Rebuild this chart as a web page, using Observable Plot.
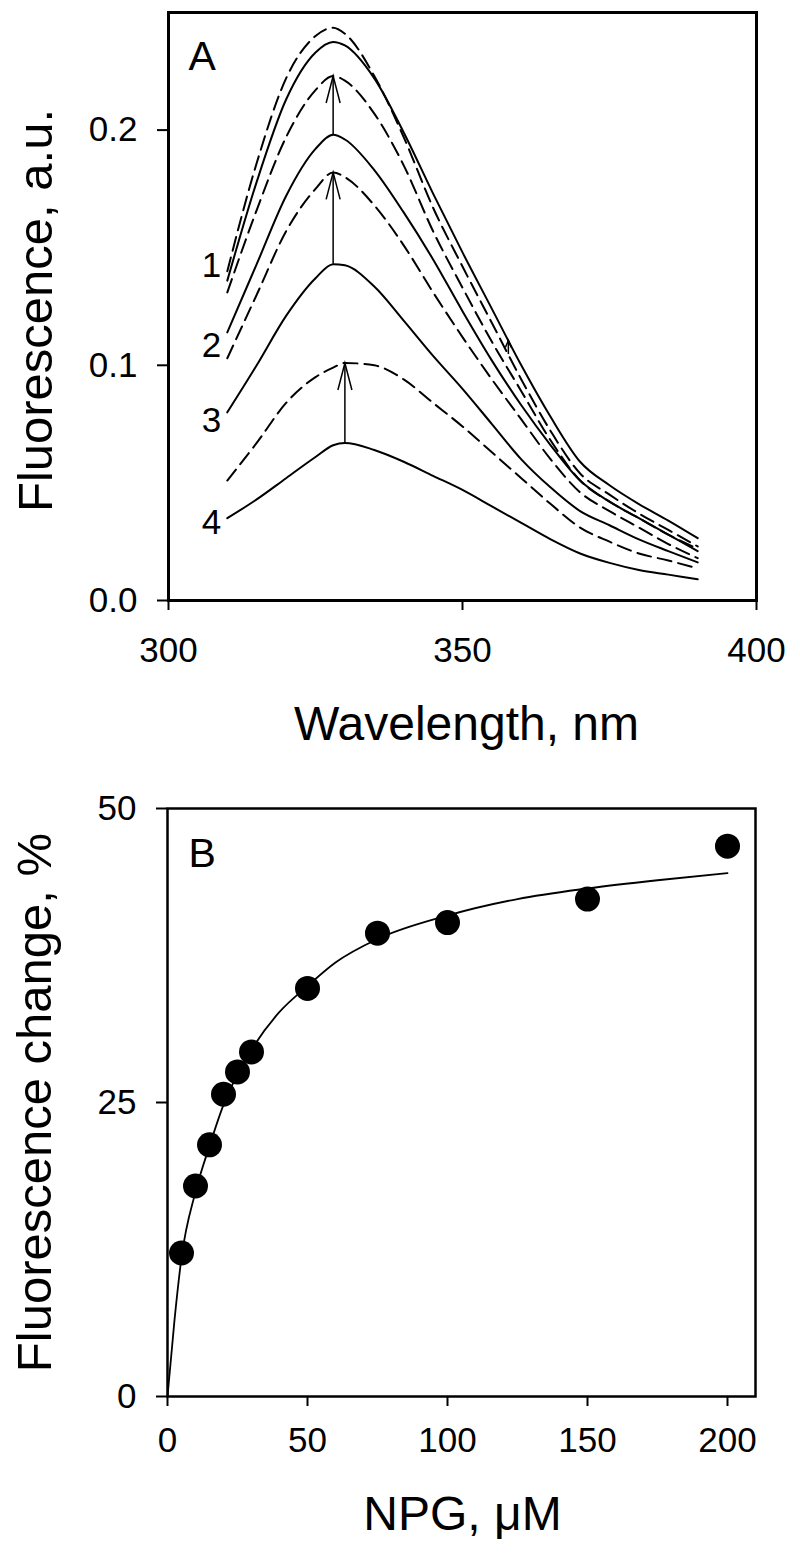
<!DOCTYPE html>
<html>
<head>
<meta charset="utf-8">
<script src="https://cdn.jsdelivr.net/npm/d3@7"></script>
<script src="https://cdn.jsdelivr.net/npm/@observablehq/plot@0.6"></script>
<style>
  body { margin: 0; background: #fff; }
  #chart svg { display: block; }
</style>
</head>
<body>
<div id="chart"></div>
<script>
// ---------- Panel A data ----------
const wavelengths = [310, 315, 320, 325, 328, 330, 335, 340, 345, 350, 355, 360, 365, 370, 375, 380, 385, 390];
const solid1  = [0.136, 0.178, 0.213, 0.233, 0.2375, 0.236, 0.222, 0.199, 0.173, 0.148, 0.124, 0.100, 0.078, 0.059, 0.049, 0.041, 0.034, 0.0265];
const dashed1 = [0.140, 0.186, 0.222, 0.240, 0.2435, 0.241, 0.223, 0.197, 0.167, 0.142, 0.118, 0.094, 0.072, 0.054, 0.045, 0.037, 0.030, 0.023];
const solid2  = [0.114, 0.143, 0.172, 0.192, 0.198, 0.196, 0.183, 0.165, 0.145, 0.123, 0.102, 0.083, 0.066, 0.051, 0.042, 0.035, 0.028, 0.021];
const dashed2 = [0.131, 0.166, 0.197, 0.217, 0.223, 0.221, 0.207, 0.185, 0.157, 0.133, 0.110, 0.089, 0.068, 0.051, 0.042, 0.035, 0.028, 0.022];
const solid3  = [0.080, 0.100, 0.121, 0.137, 0.143, 0.1425, 0.1335, 0.119, 0.104, 0.090, 0.075, 0.060, 0.048, 0.038, 0.032, 0.026, 0.021, 0.0162];
const dashed3 = [0.103, 0.130, 0.157, 0.175, 0.182, 0.180, 0.168, 0.151, 0.131, 0.112, 0.094, 0.077, 0.060, 0.046, 0.038, 0.031, 0.024, 0.018];
const solid4  = [0.035, 0.043, 0.052, 0.061, 0.066, 0.067, 0.064, 0.059, 0.053, 0.047, 0.040, 0.033, 0.026, 0.020, 0.016, 0.013, 0.011, 0.009];
const dashed4 = [0.051, 0.067, 0.084, 0.095, 0.099, 0.101, 0.100, 0.094, 0.084, 0.074, 0.063, 0.052, 0.041, 0.031, 0.025, 0.020, 0.017, 0.0136];
const curveLabels = ["1", "2", "3", "4"];
const xTicksA = [300, 350, 400];
const yTicksA = [0, 0.1, 0.2];

// ---------- Panel B data ----------
const npg = [5, 10, 15, 20, 25, 30, 50, 75, 100, 150, 200];
const fluorChange = [12.2, 17.9, 21.4, 25.7, 27.6, 29.3, 34.7, 39.4, 40.3, 42.3, 46.8];
const fitNpg = [0, 2.5, 5, 10, 15, 20, 25, 30, 40, 50, 60, 75, 100, 125, 150, 175, 200];
const fitChange = [0, 6.5, 11.8, 17.4, 21.3, 24.8, 27.4, 29.5, 32.7, 34.9, 36.9, 38.9, 40.9, 42.3, 43.2, 43.9, 44.5];
const xTicksB = [0, 50, 100, 150, 200];
const yTicksB = [0, 25, 50];

// ---------- build tables ----------
const pairs = [[solid1, dashed1], [solid2, dashed2], [solid3, dashed3], [solid4, dashed4]];
const spectra = pairs.flatMap(([s, d], k) => [
  ...wavelengths.map((w, i) => ({series: "s" + k, dashed: false, wl: w, f: s[i]})),
  ...wavelengths.map((w, i) => ({series: "d" + k, dashed: true, wl: w, f: d[i]}))
]);
function valueAt(arr, w) {
  const i = d3.bisectRight(wavelengths, w) - 1;
  if (i < 0) return arr[0];
  if (i >= wavelengths.length - 1) return arr[arr.length - 1];
  const t = (w - wavelengths[i]) / (wavelengths[i + 1] - wavelengths[i]);
  return arr[i] + t * (arr[i + 1] - arr[i]);
}
// arrows from each solid spectrum up to the dashed peak (pairs 2-4)
const bigArrows = pairs.slice(1).map(([s, d]) => {
  const w = wavelengths[d3.maxIndex(d)];
  return {x: w, base: valueAt(s, w), tip: valueAt(d, w)};
});
const smallArrowWl = 357.8;
const smallArrows = [{x: smallArrowWl, base: valueAt(dashed1, smallArrowWl), tip: valueAt(solid1, smallArrowWl)}];
const labelPoints = pairs.map(([s], k) => ({x: wavelengths[0], y: s[0], label: curveLabels[k]}));
const labelOffsets = [-15, 13, 8, 5];

const fitTable = fitNpg.map((x, i) => ({x, y: fitChange[i]}));
const pointTable = npg.map((x, i) => ({x, y: fluorChange[i]}));

// arrowhead symbols (open V)
const headBig = {draw(ctx) { ctx.moveTo(-7, 27); ctx.lineTo(0, 0); ctx.lineTo(7, 27); }};
const headSmall = {draw(ctx) { ctx.moveTo(-3, 7); ctx.lineTo(0, 0); ctx.lineTo(3, 7); }};

const FONT = "Liberation Sans, Arial, Helvetica, sans-serif";

const plotA = Plot.plot({
  width: 800,
  height: 780,
  marginTop: 12,
  marginRight: 44,
  marginBottom: 180,
  marginLeft: 168,
  style: {fontFamily: FONT, color: "#000", background: "#fff"},
  x: {domain: [300, 400]},
  y: {domain: [0, 0.25]},
  marks: [
    Plot.line(spectra.filter(d => !d.dashed), {x: "wl", y: "f", z: "series", stroke: "#000", strokeWidth: 2, curve: "monotone-x"}),
    Plot.line(spectra.filter(d => d.dashed), {x: "wl", y: "f", z: "series", stroke: "#000", strokeWidth: 2, strokeDasharray: "14,7", curve: "monotone-x"}),
    Plot.ruleX(bigArrows, {x: "x", y1: "base", y2: "tip", stroke: "#000", strokeWidth: 1.5}),
    Plot.dot(bigArrows, {x: "x", y: "tip", symbol: headBig, fill: "none", stroke: "#000", strokeWidth: 1.5}),
    Plot.ruleX(smallArrows, {x: "x", y1: "base", y2: "tip", stroke: "#000", strokeWidth: 1.5}),
    Plot.dot(smallArrows, {x: "x", y: "tip", symbol: headSmall, fill: "none", stroke: "#000", strokeWidth: 1.5}),
    ...labelPoints.map((p, k) => Plot.text([p], {x: "x", y: "y", text: "label", textAnchor: "end", lineAnchor: "middle", dx: -6, dy: labelOffsets[k], fontSize: 35, fill: "#000"})),
    Plot.text(["A"], {frameAnchor: "top-left", dx: 20, dy: 28, textAnchor: "start", lineAnchor: "top", fontSize: 41, fill: "#000"}),
    Plot.frame({stroke: "#000", strokeWidth: 3}),
    Plot.axisX({ticks: xTicksA, tickSize: 10, tickPadding: 27, strokeWidth: 2, fontSize: 35, label: null, tickFormat: d3.format("d")}),
    Plot.axisY({ticks: yTicksA, tickSize: 11, tickPadding: 20, strokeWidth: 2, fontSize: 35, label: null, tickFormat: d3.format(".1f")}),
    Plot.text(["Wavelength, nm"], {frameAnchor: "bottom", textAnchor: "middle", lineAnchor: "middle", dx: 4, dy: 124, fontSize: 48, fill: "#000"}),
    Plot.text(["Fluorescence, a.u."], {frameAnchor: "left", textAnchor: "middle", lineAnchor: "middle", rotate: -90, dx: -132, dy: 4, fontSize: 49, fill: "#000"})
  ]
});

const plotB = Plot.plot({
  width: 800,
  height: 781,
  marginTop: 28,
  marginRight: 45,
  marginBottom: 165,
  marginLeft: 167,
  style: {fontFamily: FONT, color: "#000", background: "#fff"},
  x: {domain: [0, 210]},
  y: {domain: [0, 50]},
  marks: [
    Plot.line(fitTable, {x: "x", y: "y", stroke: "#000", strokeWidth: 1.8, curve: "monotone-x"}),
    Plot.dot(pointTable, {x: "x", y: "y", r: 12.5, fill: "#000", stroke: "none"}),
    Plot.text(["B"], {frameAnchor: "top-left", dx: 21, dy: 29, textAnchor: "start", lineAnchor: "top", fontSize: 41, fill: "#000"}),
    Plot.frame({stroke: "#000", strokeWidth: 2.5}),
    Plot.axisX({ticks: xTicksB, tickSize: 10, tickPadding: 21, strokeWidth: 2, fontSize: 35, label: null, tickFormat: d3.format("d")}),
    Plot.axisY({ticks: yTicksB, tickSize: 11, tickPadding: 20, strokeWidth: 2, fontSize: 35, label: null, tickFormat: d3.format("d")}),
    Plot.text(["NPG, \u03BCM"], {frameAnchor: "bottom", textAnchor: "middle", lineAnchor: "middle", dx: 1, dy: 118, fontSize: 48, fill: "#000"}),
    Plot.text(["Fluorescence change, %"], {frameAnchor: "left", textAnchor: "middle", lineAnchor: "middle", rotate: -90, dx: -132, dy: 0, fontSize: 49, fill: "#000"})
  ]
});

document.getElementById("chart").append(plotA, plotB);
</script>
</body>
</html>
